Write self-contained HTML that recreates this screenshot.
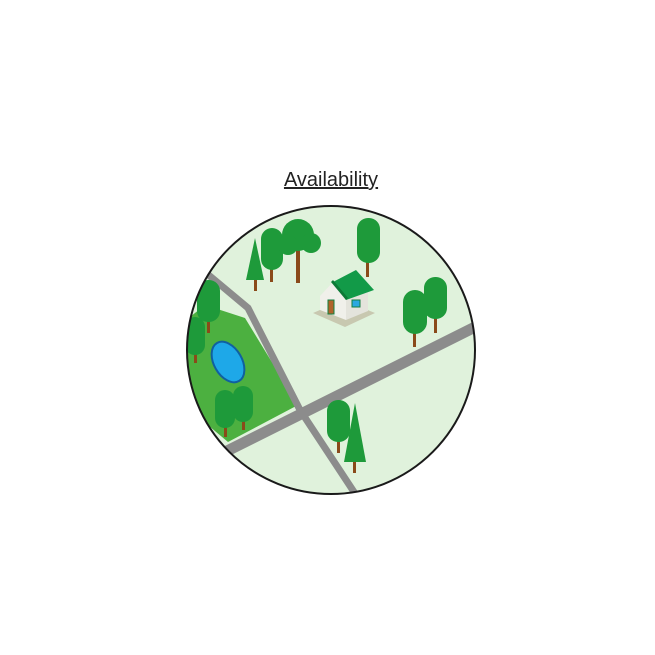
<!DOCTYPE html>
<html><head><meta charset="utf-8"><style>
html,body{margin:0;padding:0;background:#fff;width:655px;height:655px;overflow:hidden}
</style></head><body>
<svg width="655" height="655" viewBox="0 0 655 655" xmlns="http://www.w3.org/2000/svg">
<text x="331" y="186" text-anchor="middle" font-family="Liberation Sans, sans-serif" font-size="20" fill="#222" text-decoration="underline">Availability</text>
<defs><clipPath id="c"><circle cx="331" cy="350" r="144"/></clipPath></defs>
<circle cx="331" cy="350" r="144" fill="#e0f2dc"/>
<g clip-path="url(#c)">
 <polygon points="180,325 205,305 245,318 298,405 228,442 190,410" fill="#4cb040"/>
 <ellipse cx="228" cy="362" rx="14" ry="22" transform="rotate(-30 228 362)" fill="#1ea8e8" stroke="#1060a0" stroke-width="2"/>
 <polyline points="205,272 248,308 300,410 356,495" fill="none" stroke="#8c8c8c" stroke-width="7"/>
 <line x1="225" y1="452" x2="475" y2="327" stroke="#8c8c8c" stroke-width="11"/>
 <g>
  <rect x="254" y="275" width="3" height="16" fill="#8a4a1a"/><polygon points="255,238 246,280 264,280" fill="#1e9a3a"/>
  <rect x="270" y="260" width="3" height="22" fill="#8a4a1a"/><rect x="261" y="228" width="22" height="42" rx="11" fill="#1e9a3a"/>
  <rect x="296" y="250" width="4" height="33" fill="#8a4a1a"/><circle cx="298" cy="235" r="16" fill="#1e9a3a"/><circle cx="288" cy="245" r="10" fill="#1e9a3a"/><circle cx="311" cy="243" r="10" fill="#1e9a3a"/>
  <rect x="366" y="255" width="3" height="22" fill="#8a4a1a"/><rect x="357" y="218" width="23" height="45" rx="11" fill="#1e9a3a"/>
  <rect x="413" y="325" width="3" height="22" fill="#8a4a1a"/><rect x="403" y="290" width="24" height="44" rx="12" fill="#1e9a3a"/>
  <rect x="434" y="310" width="3" height="23" fill="#8a4a1a"/><rect x="424" y="277" width="23" height="42" rx="11" fill="#1e9a3a"/>
  <rect x="207" y="310" width="3" height="23" fill="#8a4a1a"/><rect x="197" y="280" width="23" height="42" rx="11" fill="#1e9a3a"/>
  <rect x="194" y="345" width="3" height="18" fill="#8a4a1a"/><rect x="185" y="317" width="20" height="38" rx="10" fill="#1e9a3a"/>
  <rect x="224" y="420" width="3" height="17" fill="#8a4a1a"/><rect x="215" y="390" width="20" height="38" rx="10" fill="#1e9a3a"/>
  <rect x="242" y="413" width="3" height="17" fill="#8a4a1a"/><rect x="233" y="386" width="20" height="36" rx="10" fill="#1e9a3a"/>
  <rect x="337" y="433" width="3" height="20" fill="#8a4a1a"/><rect x="327" y="400" width="23" height="42" rx="11" fill="#1e9a3a"/>
  <rect x="353" y="455" width="3" height="18" fill="#8a4a1a"/><polygon points="355,403 344,462 366,462" fill="#1e9a3a"/>
 </g>
 <g>
  <polygon points="313,313 343,300 375,313 345,327" fill="#c8c8b0"/>
  <polygon points="320,296 333,282 346,296 346,320 320,310" fill="#f0f0ea"/>
  <polygon points="346,296 368,290 368,311 346,320" fill="#e4e4dc"/>
  <polygon points="333,282 356,270 374,290 346,300" fill="#129a48"/>
  <polygon points="331,282 333,280 348,298 346,300" fill="#0c7a36"/>
  <rect x="328" y="300" width="6" height="14" fill="#b0622a" stroke="#128040" stroke-width="1"/>
  <rect x="352" y="300" width="8" height="7" fill="#2aa8e0" stroke="#128040" stroke-width="1"/>
 </g>
</g>
<circle cx="331" cy="350" r="144" fill="none" stroke="#1a1a1a" stroke-width="2"/>
</svg>
</body></html>
